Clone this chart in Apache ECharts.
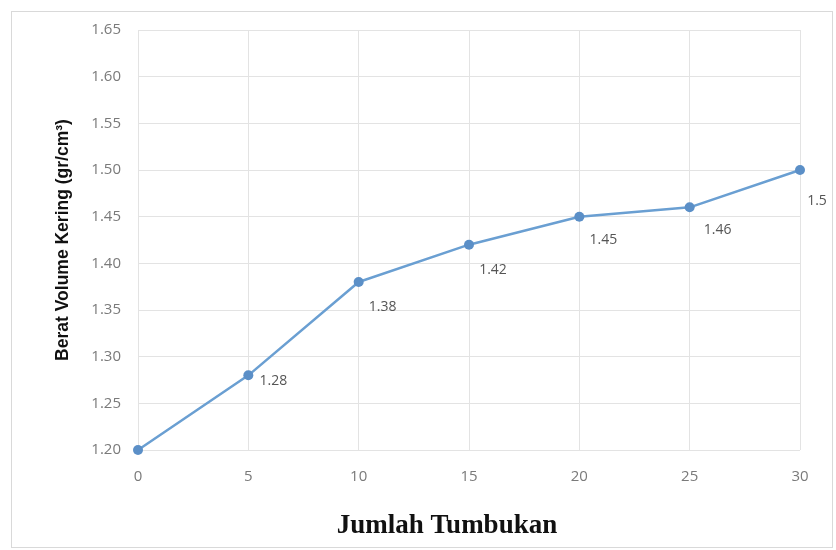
<!DOCTYPE html>
<html>
<head>
<meta charset="utf-8">
<script src="https://cdn.jsdelivr.net/npm/echarts@6/dist/echarts.min.js"></script>
<style>
  html, body { margin: 0; padding: 0; background: #fff; }
  #frame { position: absolute; left: 11px; top: 11px; width: 822px; height: 537px; border: 1px solid #d9d9d9; box-sizing: border-box; }
  #chart { width: 836px; height: 550px; position: absolute; left: 0; top: 0; }
</style>
</head>
<body>
<div id="frame"></div>
<div id="chart"></div>
<script>
// Dry unit weight vs. number of blows
const blows = [0, 5, 10, 15, 20, 25, 30];
const dryDensity = [1.20, 1.28, 1.38, 1.42, 1.45, 1.46, 1.50];
const pointLabels = ['', '1.28', '1.38', '1.42', '1.45', '1.46', '1.5'];

// label placement relative to each marker
const labelOffsets = [[0, 0], [25, 6], [24, 25], [24, 25], [24, 23], [28, 23], [17, 31]];

const chart = echarts.init(document.getElementById('chart'));
chart.setOption({
  animation: false,
  grid: { left: 138, right: 36, top: 30, bottom: 100, containLabel: false },
  xAxis: {
    type: 'value', min: 0, max: 30, interval: 5,
    name: 'Jumlah Tumbukan', nameLocation: 'middle', nameGap: 63,
    nameTextStyle: { fontFamily: 'Liberation Serif', fontWeight: 'bold', fontSize: 27, color: '#111', padding: [0, 44, 0, 0] },
    axisLine: { show: false }, axisTick: { show: false },
    axisLabel: { color: '#7a7a7a', fontSize: 15, margin: 19, fontFamily: 'Open Sans' },
    splitLine: { show: true, lineStyle: { color: '#e3e3e3' } }
  },
  yAxis: {
    type: 'value', min: 1.20, max: 1.65, interval: 0.05,
    name: 'Berat Volume Kering (gr/cm³)', nameLocation: 'middle', nameGap: 66,
    nameTextStyle: { fontFamily: 'Liberation Sans', fontWeight: 'bold', fontSize: 17.5, color: '#111' },
    axisLine: { show: false }, axisTick: { show: false },
    axisLabel: { color: '#7a7a7a', fontSize: 15, margin: 17, fontFamily: 'Open Sans', formatter: v => v.toFixed(2) },
    splitLine: { show: true, lineStyle: { color: '#e3e3e3' } }
  },
  series: [{
    type: 'line',
    data: blows.map((b, i) => ({
      value: [b, dryDensity[i]],
      label: { show: pointLabels[i] !== '', formatter: pointLabels[i], offset: labelOffsets[i] }
    })),
    symbol: 'circle', symbolSize: 10,
    itemStyle: { color: '#5b8fc7' },
    lineStyle: { color: '#6a9fd2', width: 2.5 },
    label: { position: 'inside', color: '#555', fontSize: 14, fontFamily: 'Open Sans' }
  }]
});
</script>
</body>
</html>
